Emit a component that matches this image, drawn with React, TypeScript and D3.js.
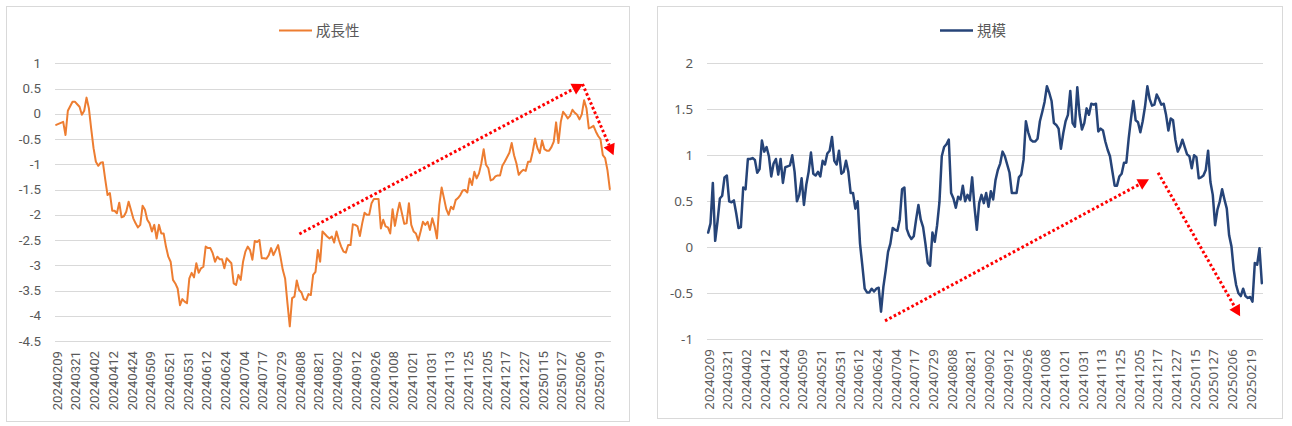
import React from 'react';
import * as d3 from 'd3';

// ---- categories (every 8th trading day is labelled) ----
const dateLabels = [
  '20240209', '20240321', '20240402', '20240412', '20240424', '20240509',
  '20240521', '20240531', '20240612', '20240624', '20240704', '20240717',
  '20240729', '20240808', '20240821', '20240902', '20240912', '20240926',
  '20241008', '20241021', '20241031', '20241113', '20241125', '20241205',
  '20241217', '20241227', '20250115', '20250127', '20250206', '20250219',
];
const labelEvery = 8;

// ---- series: 成長性 ----
const growthValues = [
  -0.22, -0.20, -0.18, -0.16, -0.42, 0.06, 0.15, 0.24, 0.24, 0.19,
  0.14, -0.02, 0.06, 0.32, 0.11, -0.30, -0.68, -0.95, -1.03, -0.97,
  -0.96, -1.30, -1.61, -1.57, -1.92, -1.92, -1.97, -1.76, -2.05, -2.03,
  -1.94, -1.74, -1.90, -2.07, -2.17, -2.25, -2.20, -1.82, -1.90, -2.10,
  -2.17, -2.33, -2.20, -2.47, -2.20, -2.37, -2.37, -2.63, -2.83, -2.93,
  -3.29, -3.36, -3.46, -3.79, -3.67, -3.72, -3.75, -3.26, -3.15, -3.24,
  -2.96, -3.15, -3.06, -3.03, -2.63, -2.66, -2.66, -2.76, -2.93, -2.83,
  -2.88, -2.88, -3.06, -2.86, -2.91, -2.96, -3.36, -3.39, -3.19, -3.29,
  -2.93, -2.73, -2.63, -2.70, -2.89, -2.52, -2.54, -2.50, -2.86, -2.86,
  -2.87, -2.80, -2.66, -2.80, -2.70, -2.60, -2.83, -3.09, -3.26, -3.75,
  -4.21, -3.65, -3.62, -3.30, -3.49, -3.54, -3.67, -3.69, -3.57, -3.59,
  -3.19, -3.13, -2.70, -2.93, -2.33, -2.38, -2.43, -2.47, -2.43, -2.55,
  -2.33, -2.50, -2.63, -2.73, -2.75, -2.60, -2.60, -2.19, -2.20, -2.23,
  -2.42, -2.17, -1.96, -2.00, -2.00, -1.77, -1.69, -1.69, -1.69, -2.27,
  -2.10, -2.23, -2.25, -2.37, -1.89, -2.22, -1.97, -1.76, -1.97, -2.18,
  -2.17, -1.77, -2.20, -2.33, -2.37, -2.51, -2.33, -2.14, -2.20, -2.14,
  -2.30, -2.07, -2.23, -2.47, -1.81, -1.46, -1.67, -1.89, -2.00, -1.84,
  -1.89, -1.71, -1.67, -1.61, -1.52, -1.51, -1.56, -1.28, -1.41, -1.15,
  -1.28, -1.18, -0.98, -0.70, -1.01, -1.08, -1.32, -1.30, -1.24, -1.22,
  -1.22, -1.03, -0.95, -0.86, -0.77, -0.58, -0.82, -0.98, -1.21, -1.15,
  -1.11, -1.13, -0.95, -0.95, -0.75, -0.49, -0.68, -0.78, -0.53, -0.70,
  -0.73, -0.73, -0.66, -0.55, -0.17, -0.58, -0.16, 0.04, -0.02, -0.09,
  -0.04, 0.08, 0.02, -0.02, -0.11, -0.01, 0.27, 0.11, -0.29, -0.27,
  -0.24, -0.35, -0.44, -0.50, -0.82, -0.88, -1.12, -1.49,
];

// ---- series: 規模 ----
const scaleValues = [
  0.16, 0.26, 0.70, 0.07, 0.28, 0.53, 0.56, 0.76, 0.78, 0.50,
  0.49, 0.51, 0.37, 0.21, 0.22, 0.65, 0.63, 0.96, 0.96, 0.97,
  0.95, 0.81, 0.85, 1.16, 1.04, 1.09, 0.99, 0.77, 0.91, 0.96,
  0.79, 0.96, 0.70, 0.87, 0.88, 0.89, 1.00, 0.82, 0.50, 0.57,
  0.75, 0.46, 0.68, 0.82, 1.03, 0.80, 0.78, 0.82, 0.77, 0.94,
  0.90, 1.02, 1.05, 1.20, 0.94, 0.90, 1.05, 0.80, 0.82, 0.94,
  0.82, 0.59, 0.59, 0.42, 0.50, 0.04, -0.20, -0.45, -0.49, -0.49,
  -0.45, -0.48, -0.45, -0.44, -0.70, -0.43, -0.25, -0.05, 0.04, 0.21,
  0.19, 0.18, 0.30, 0.63, 0.65, 0.20, 0.13, 0.09, 0.12, 0.30,
  0.46, 0.30, 0.22, 0.04, -0.17, -0.20, 0.16, 0.06, 0.24, 0.49,
  0.99, 1.09, 1.12, 1.17, 0.59, 0.53, 0.43, 0.55, 0.52, 0.67,
  0.50, 0.57, 0.51, 0.76, 0.44, 0.19, 0.48, 0.57, 0.48, 0.59,
  0.44, 0.61, 0.52, 0.73, 0.84, 0.91, 1.04, 0.99, 0.90, 0.81,
  0.59, 0.59, 0.59, 0.76, 0.79, 0.95, 1.37, 1.25, 1.17, 1.15,
  1.15, 1.18, 1.37, 1.47, 1.58, 1.75, 1.68, 1.59, 1.35, 1.33,
  1.29, 1.07, 1.24, 1.37, 1.44, 1.70, 1.35, 1.31, 1.74, 1.44,
  1.28, 1.35, 1.51, 1.44, 1.56, 1.55, 1.56, 1.26, 1.29, 1.27,
  1.15, 1.06, 0.99, 0.83, 0.67, 0.67, 0.77, 0.80, 0.92, 0.92,
  1.18, 1.40, 1.59, 1.38, 1.36, 1.25, 1.37, 1.53, 1.75, 1.61,
  1.54, 1.55, 1.66, 1.61, 1.55, 1.56, 1.44, 1.27, 1.40, 1.38,
  1.17, 1.04, 1.09, 1.17, 1.09, 1.01, 0.99, 0.86, 1.00, 0.98,
  0.75, 0.76, 0.78, 0.84, 1.05, 0.71, 0.57, 0.24, 0.41, 0.50,
  0.63, 0.52, 0.42, 0.13, 0.01, -0.25, -0.41, -0.50, -0.53, -0.45,
  -0.53, -0.55, -0.54, -0.59, -0.17, -0.19, -0.01, -0.39,
];

// ---- axis ticks ----
const growthTicks = [1, 0.5, 0, -0.5, -1, -1.5, -2, -2.5, -3, -3.5, -4, -4.5];
const scaleTicks = [2, 1.5, 1, 0.5, 0, -0.5, -1];

// ---- annotation arrows in (category index, value) ----
const growthArrows = [
  { from: [104.1, -2.38], to: [225.5, 0.59] },
  { from: [225.3, 0.59], to: [238.6, -0.82] },
];
const scaleArrows = [
  { from: [75.7, -0.8], to: [188.7, 0.74] },
  { from: [192.6, 0.81], to: [227.7, -0.75] },
];

type Arrow = { from: number[]; to: number[] };

interface ChartProps {
  frame: { x: number; y: number; w: number; h: number };
  plot: { left: number; right: number; top: number; bottom: number };
  values: number[];
  ticks: number[];
  color: string;
  lineWidth: number;
  name: string;
  legendX: number;
  arrows: Arrow[];
  font: string;
}

function Chart(p: ChartProps) {
  const n = p.values.length;
  const x = d3.scaleLinear().domain([0, n]).range([p.plot.left, p.plot.right]);
  const y = d3
    .scaleLinear()
    .domain([p.ticks[p.ticks.length - 1], p.ticks[0]])
    .range([p.plot.bottom, p.plot.top]);
  const cx = (i: number) => x(i + 0.5);
  const line = d3
    .line<number>()
    .x((_, i) => cx(i))
    .y((d) => y(d));
  const textColor = '#595959';

  return (
    <g>
      <rect
        x={p.frame.x + 0.5}
        y={p.frame.y + 0.5}
        width={p.frame.w}
        height={p.frame.h}
        fill="#fff"
        stroke="#d9d9d9"
        strokeWidth={1}
      />
      {/* legend */}
      <line
        x1={p.legendX}
        x2={p.legendX + 33}
        y1={30.5}
        y2={30.5}
        stroke={p.color}
        strokeWidth={p.lineWidth}
      />
      <text
        x={p.legendX + 37}
        y={30.5}
        dy="0.35em"
        fontSize={14.5}
        fill={textColor}
        fontFamily="'Noto Sans CJK JP', 'Noto Sans', sans-serif"
      >
        {p.name}
      </text>
      {/* gridlines + y labels */}
      {p.ticks.map((t) => (
        <g key={t}>
          <line
            x1={p.plot.left}
            x2={p.plot.right}
            y1={Math.round(y(t)) + 0.5}
            y2={Math.round(y(t)) + 0.5}
            stroke="#d9d9d9"
            strokeWidth={1}
          />
          <text
            x={p.plot.left - 14}
            y={y(t)}
            dy="0.35em"
            textAnchor="end"
            fontSize={13.3}
            fill={textColor}
            fontFamily={p.font}
          >
            {String(t)}
          </text>
        </g>
      ))}
      {/* x labels */}
      {dateLabels.map((lab, k) => {
        const i = k * labelEvery;
        return (
          <text
            key={lab}
            transform={`translate(${cx(i) + 1},${p.plot.bottom + 10}) rotate(-90)`}
            textAnchor="end"
            dy="0.35em"
            fontSize={13.2}
            fill={textColor}
            fontFamily={p.font}
          >
            {lab}
          </text>
        );
      })}
      {/* series */}
      <path
        d={line(p.values) || ''}
        fill="none"
        stroke={p.color}
        strokeWidth={p.lineWidth}
        strokeLinejoin="round"
        strokeLinecap="round"
      />
      {/* arrows */}
      {p.arrows.map((a, k) => {
        const x1 = cx(a.from[0]);
        const y1 = y(a.from[1]);
        const x2 = cx(a.to[0]);
        const y2 = y(a.to[1]);
        const dx = x2 - x1;
        const dy = y2 - y1;
        const len = Math.sqrt(dx * dx + dy * dy);
        const ux = dx / len;
        const uy = dy / len;
        const headL = 11;
        const headW = 6;
        const bx = x2 - ux * headL;
        const by = y2 - uy * headL;
        const pts = [
          [x2, y2],
          [bx - uy * headW, by + ux * headW],
          [bx + uy * headW, by - ux * headW],
        ]
          .map((q) => q.join(','))
          .join(' ');
        return (
          <g key={k}>
            <line
              x1={x1}
              y1={y1}
              x2={bx}
              y2={by}
              stroke="#ff0000"
              strokeWidth={3}
              strokeDasharray="2.6 2.4"
            />
            <polygon points={pts} fill="#ff0000" />
          </g>
        );
      })}
    </g>
  );
}

export default function App() {
  return (
    <svg
      width={1292}
      height={426}
      style={{ position: 'absolute', left: 0, top: 0, background: '#fff' }}
    >
      <rect x={0} y={0} width={1292} height={426} fill="#fff" />
      <Chart
        frame={{ x: 6, y: 6, w: 623, h: 415 }}
        plot={{ left: 55, right: 611, top: 63.3, bottom: 341 }}
        values={growthValues}
        ticks={growthTicks}
        color="#ED7D31"
        lineWidth={2}
        name="成長性"
        legendX={279}
        arrows={growthArrows}
        font="Roboto, 'Liberation Sans', sans-serif"
      />
      <Chart
        frame={{ x: 657, y: 6, w: 625, h: 412 }}
        plot={{ left: 707, right: 1263, top: 63.3, bottom: 339.3 }}
        values={scaleValues}
        ticks={scaleTicks}
        color="#264478"
        lineWidth={2.5}
        name="規模"
        legendX={940}
        arrows={scaleArrows}
        font="'Noto Sans', 'DejaVu Sans', sans-serif"
      />
    </svg>
  );
}
